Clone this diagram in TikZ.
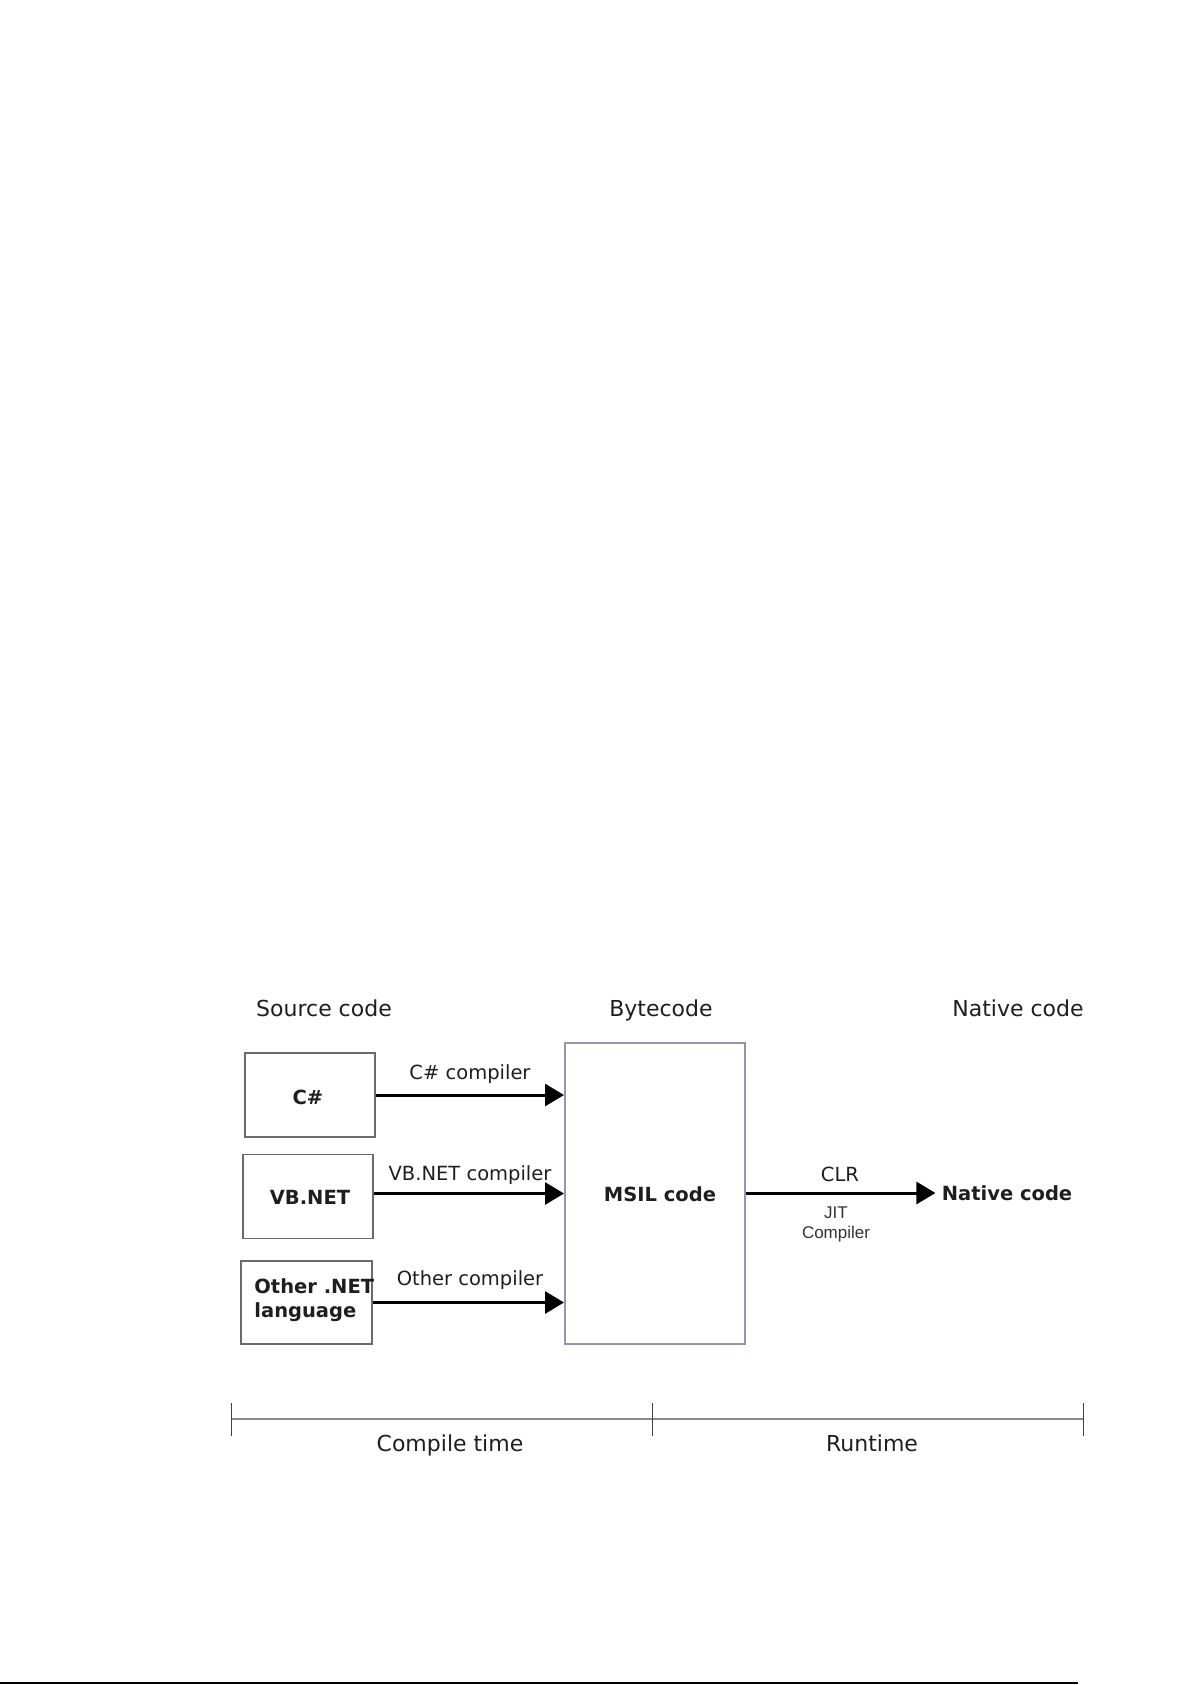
\documentclass[tikz,border=0pt]{standalone}
\usepackage{fontspec}
\setmainfont{DejaVu Sans}
\newfontfamily\arialfont{Liberation Sans}
\usetikzlibrary{arrows.meta}
\definecolor{txt}{HTML}{1E1E1E}
\definecolor{boxgray}{HTML}{6A6A6A}
\definecolor{msilblue}{HTML}{9494B4}
\definecolor{tlgray}{HTML}{8A8A8A}
\tikzset{
  head/.style={font=\fontsize{11}{13}\selectfont, text=txt, text height=8.2pt, text depth=2.3pt},
  srcbox/.style={draw=boxgray, line width=0.8pt, minimum width=65pt, minimum height=42pt, inner sep=0pt},
  boldtxt/.style={font=\bfseries\fontsize{9.75}{12}\selectfont, text=txt},
  comp/.style={font=\fontsize{9.75}{12}\selectfont, text=txt},
  flow/.style={line width=1.5pt, -{Triangle[length=9.5pt,width=11pt]}},
  tick/.style={line width=0.5pt, draw=black!75},
}
\begin{document}
\begin{tikzpicture}[x=0.5pt,y=-0.5pt]
\useasboundingbox (0,0) rectangle (1192,1685);
% headings
\node[head] (hsrc) at (324,1011) {Source code};
\node[head] (hbyte) at (661,1011) {Bytecode};
\node[head] (hnat) at (1018,1011) {Native code};
% source boxes
\node[srcbox] (cs) at (310,1095) {};
\node[boldtxt] (cstxt) at (308,1097) {C\#};
\node[srcbox] (vb) at (308,1196.5) {};
\node[boldtxt] (vbtxt) at (310,1197) {VB.NET};
\node[srcbox, minimum width=65.5pt, minimum height=41.5pt] (oth) at (306.5,1302.5) {};
\node[boldtxt, align=left, anchor=west, inner sep=0pt] (othtxt) at (254,1300.5) {Other .NET\\language};
% MSIL box
\node[draw=msilblue, line width=1pt, minimum width=90pt, minimum height=150.5pt, inner sep=0pt] (msil) at (655,1193.5) {};
\node[boldtxt] (msiltxt) at (660,1194) {MSIL code};
% native code
\node[boldtxt, inner sep=3pt] (nat) at (1007,1193) {Native code};
% arrows
\draw[flow] (cs.east) -- (cs.east -| msil.west);
\draw[flow] ([yshift=1.5pt]vb.east) -- ([yshift=1.5pt]vb.east -| msil.west);
\draw[flow] (oth.east) -- (oth.east -| msil.west);
\draw[flow] (msil.east |- nat.west) -- (nat.west);
% arrow labels
\node[comp] (lcs) at (470,1074) {C\# compiler};
\node[comp] (lvb) at (470,1175) {VB.NET compiler};
\node[comp] (loth) at (470,1280) {Other compiler};
\node[comp] (lclr) at (840,1174) {CLR};
\node[font=\arialfont\fontsize{8.5}{10}\selectfont, text=black!80, align=center] (ljit) at (836,1224) {JIT\\Compiler};
% timeline
\coordinate (t0) at (231,1419);
\coordinate (t1) at (652,1419);
\coordinate (t2) at (1083,1419);
\draw[tlgray, line width=1pt] (t0) -- (t2);
\draw[tick] ([yshift=8pt]t0) -- ([yshift=-8.5pt]t0);
\draw[tick] ([yshift=8pt]t1) -- ([yshift=-8.5pt]t1);
\draw[tick] ([yshift=8pt]t2) -- ([yshift=-8.5pt]t2);
\node[head] (lct) at (450,1446) {Compile time};
\node[head] (lrt) at (872,1446) {Runtime};
% bottom rule
\coordinate (b0) at (0,1683);
\coordinate (b1) at (1078,1683);
\draw[black, line width=1pt] (b0) -- (b1);
\end{tikzpicture}
\end{document}
